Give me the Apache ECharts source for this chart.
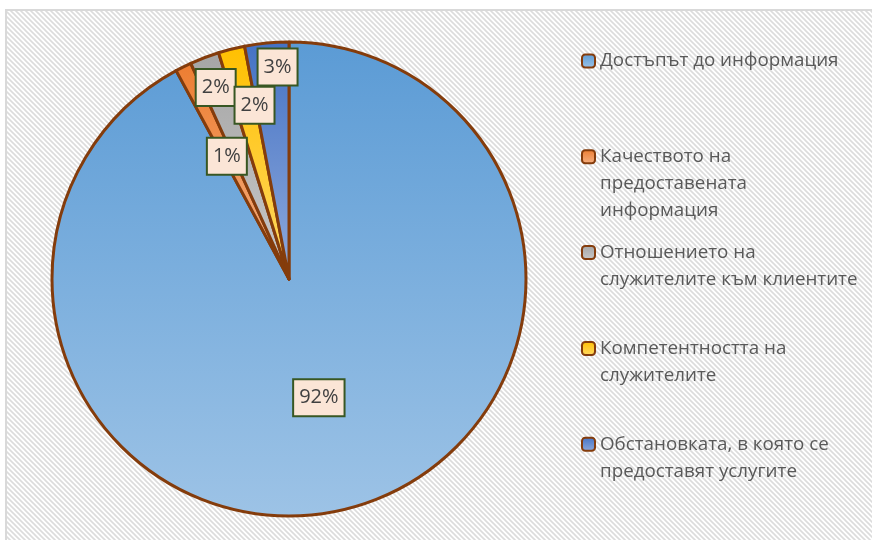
<!DOCTYPE html>
<html>
<head>
<meta charset="utf-8">
<script src="https://cdn.jsdelivr.net/npm/echarts@6/dist/echarts.min.js"></script>
<style>
  html, body { margin: 0; padding: 0; background: #fff; }
  #chart { width: 872px; height: 540px; }
</style>
</head>
<body>
<div id="chart"></div>
<script>
  // данни
  const categories = [
    'Достъпът до информация',
    'Качеството на предоставената информация',
    'Отношението на служителите към клиентите',
    'Компетентността на служителите',
    'Обстановката, в която се предоставят услугите'
  ];
  const values = [92.1, 1.1, 2.0, 1.8, 3.0];
  // как се пренасят редовете в легендата
  const legendText = [
    'Достъпът до информация',
    'Качеството на\nпредоставената\nинформация',
    'Отношението на\nслужителите към клиентите',
    'Компетентността на\nслужителите',
    'Обстановката, в която се\nпредоставят услугите'
  ];

  // стилове
  const topColors = ['#5b9bd5', '#ed7d31', '#a5a5a5', '#ffc000', '#4472c4'];
  const bottomColors = ['#9dc3e6', '#f4b183', '#c9c9c9', '#ffd966', '#8faadc'];
  const labelShift = [[0, 1], [-8, -14], [-30, -78], [-5, -56], [0, -91]];
  const lineH = 27;

  // фон на райета
  const tile = document.createElement('canvas');
  tile.width = 5; tile.height = 5;
  const g = tile.getContext('2d');
  g.fillStyle = '#ffffff';
  g.fillRect(0, 0, 5, 5);
  g.strokeStyle = '#dcdcdc';
  g.lineWidth = 1.6;
  g.beginPath();
  g.moveTo(-1, -1); g.lineTo(6, 6);
  g.moveTo(-1, 4); g.lineTo(1, 6);
  g.moveTo(4, -1); g.lineTo(6, 1);
  g.stroke();

  const grad = (i) => ({
    type: 'linear', x: 0, y: 0, x2: 0, y2: 1,
    colorStops: [
      { offset: 0, color: topColors[i] },
      { offset: 1, color: bottomColors[i] }
    ]
  });

  // по една легенда за всеки запис, маркерът е до първия ред
  // (празни редове отгоре, за да е първият ред в средата)
  const legends = legendText.map((txt, i) => {
    const n = txt.split('\n').length;
    const h = (2 * n - 1) * lineH;
    const c = 61 + i * 95.8;
    return {
      orient: 'vertical',
      left: 581,
      top: c - h / 2,
      padding: 0,
      itemWidth: 13,
      itemHeight: 13,
      data: [categories[i]],
      formatter: () => '\n'.repeat(n - 1) + txt,
      selectedMode: false,
      textStyle: {
        fontFamily: 'Open Sans',
        fontSize: 18.8,
        color: '#595959',
        lineHeight: lineH
      }
    };
  });

  const chart = echarts.init(document.getElementById('chart'));
  chart.setOption({
    animation: false,
    backgroundColor: '#fff',
    graphic: [{
      type: 'rect',
      z: -10,
      silent: true,
      shape: { x: 6, y: 10, width: 900, height: 560 },
      style: { fill: { image: tile, repeat: 'repeat' }, stroke: '#d9d9d9', lineWidth: 2 }
    }],
    legend: legends,
    series: [{
      type: 'pie',
      center: [289, 279],
      radius: 237,
      startAngle: 90,
      clockwise: true,
      emphasis: { disabled: true },
      itemStyle: { borderColor: '#843c0c', borderWidth: 3 },
      label: {
        position: 'inside',
        formatter: (p) => Math.round(p.percent) + '%',
        fontFamily: 'Open Sans',
        fontSize: 20,
        color: '#404040',
        backgroundColor: '#fbe5d6',
        borderColor: '#385723',
        borderWidth: 2,
        lineHeight: 25,
        padding: [6, 5, 4, 5]
      },
      labelLayout: (p) => {
        const s = labelShift[p.dataIndex];
        return { dx: s[0], dy: s[1] };
      },
      data: categories.map((name, i) => ({
        name: name,
        value: values[i],
        itemStyle: { color: grad(i) }
      }))
    }]
  });
</script>
</body>
</html>
